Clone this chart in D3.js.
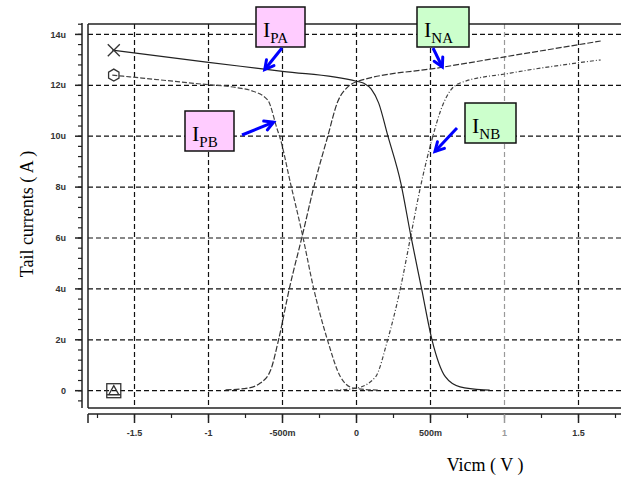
<!DOCTYPE html>
<html><head><meta charset="utf-8">
<script src="https://cdn.jsdelivr.net/npm/d3@7"></script>
<style>body{margin:0;background:#fff}svg{display:block}</style>
</head><body>
<svg id="c" width="621" height="477"></svg>
<script>
// ---- data ----
const xTickValues = [-1.5, -1, -0.5, 0, 0.5, 1, 1.5];
const xTickLabels = ["-1.5", "-1", "-500m", "0", "500m", "1", "1.5"];
const yTickValues = [0, 2, 4, 6, 8, 10, 12, 14];
const yTickLabels = ["0", "2u", "4u", "6u", "8u", "10u", "12u", "14u"];
// Vicm (V), current (uA)
const ipa = [[-1.65,13.38],[-1.0,12.9],[-0.5,12.55],[0,12.16],[0.05,12.08],[0.1,11.85],[0.15,11.3],[0.21,10.05],[0.3,8.15],[0.365,6.15],[0.44,4.0],[0.51,2.0],[0.6,0.55],[0.7,0.15],[0.86,0.03],[0.9,0.02]];
const ipb = [[-1.65,12.4],[-1.05,12.05],[-0.8,11.9],[-0.716,11.8],[-0.6,11.42],[-0.534,10.24],[-0.52,10.0],[-0.446,8.15],[-0.365,6.12],[-0.29,4.03],[-0.196,1.99],[-0.108,0.54],[-0.02,0.1],[0.15,0.02]];
const ina = [[-0.885,0.03],[-0.736,0.1],[-0.65,0.3],[-0.58,0.81],[-0.527,1.99],[-0.453,4.03],[-0.365,6.12],[-0.28,8.2],[-0.196,9.96],[-0.128,11.34],[-0.06,11.93],[0,12.14],[0.57,12.7],[1.65,13.74]];
const inb = [[-0.15,0.02],[0.0,0.1],[0.128,0.54],[0.21,1.99],[0.297,4.03],[0.365,6.03],[0.432,8.0],[0.514,9.96],[0.568,11.0],[0.635,11.8],[0.70,12.09],[1.04,12.48],[1.65,13.0]];
const markerX = -1.64;
const annotations = [
  {sub:"PA", fill:"#ffccff", box:[256,7], from:[282,48], to:[-0.62,12.62]},
  {sub:"PB", fill:"#ffccff", box:[185,111], from:[242,135], to:[-0.56,10.55]},
  {sub:"NA", fill:"#ccffcc", box:[417,7], from:[433,48], to:[0.58,12.72]},
  {sub:"NB", fill:"#ccffcc", box:[465,103], from:[457,128], to:[0.53,9.4]}
];

// ---- scales ----
const svg = d3.select("#c");
const x = d3.scaleLinear().domain([-1.5, 1.5]).range([134.5, 578.5]);
const y = d3.scaleLinear().domain([0, 14]).range([390.7, 34.4]);
const L = 88, R = 621, T = 24, B = 408;

svg.append("defs").append("clipPath").attr("id","clip")
  .append("rect").attr("x",L).attr("y",T).attr("width",R-L).attr("height",B-T);

// grid
const g = svg.append("g");
yTickValues.forEach(v => {
  g.append("line").attr("x1",L).attr("x2",R).attr("y1",y(v)).attr("y2",y(v))
   .attr("stroke","#111").attr("stroke-width",1.2).attr("stroke-dasharray","5,3");
});
xTickValues.forEach(v => {
  g.append("line").attr("x1",x(v)).attr("x2",x(v)).attr("y1",T).attr("y2",B)
   .attr("stroke", v===1 ? "#999" : "#111").attr("stroke-width",1.2).attr("stroke-dasharray","5,3");
});

// frame
svg.append("line").attr("x1",L).attr("x2",R).attr("y1",T).attr("y2",T).attr("stroke","#222").attr("stroke-width",1.5);
svg.append("line").attr("x1",L).attr("x2",L).attr("y1",T).attr("y2",B).attr("stroke","#222").attr("stroke-width",1.5);
svg.append("line").attr("x1",L).attr("x2",R).attr("y1",B).attr("y2",B).attr("stroke","#222").attr("stroke-width",1.5);

// y axis (left, offset)
const yAx = svg.append("g").attr("transform","translate(82,0)");
yAx.append("line").attr("x1",0).attr("x2",0).attr("y1",23).attr("y2",408).attr("stroke","#222").attr("stroke-width",1.5);
const yMinor = d3.range(-0.4, 14.5, 0.4);
yMinor.forEach(v => {
  const py = y(v);
  if (py < 23 || py > 408) return;
  yAx.append("line").attr("x1",-4).attr("x2",0).attr("y1",py).attr("y2",py).attr("stroke","#222").attr("stroke-width",1.2);
});
yTickValues.forEach((v,i) => {
  yAx.append("line").attr("x1",-7).attr("x2",0).attr("y1",y(v)).attr("y2",y(v)).attr("stroke","#222").attr("stroke-width",1.5);
  yAx.append("text").attr("x",-16).attr("y",y(v)).attr("dy","0.35em").attr("text-anchor","end")
    .attr("font-family","Liberation Sans, Arial").attr("font-weight","bold").attr("font-size",9).attr("fill","#333")
    .text(yTickLabels[i]);
});

// x axis (bottom, offset)
const xAx = svg.append("g").attr("transform","translate(0,414)");
xAx.append("line").attr("x1",L).attr("x2",R).attr("y1",0).attr("y2",0).attr("stroke","#222").attr("stroke-width",1.5);
xAx.append("line").attr("x1",L).attr("x2",L).attr("y1",0).attr("y2",9).attr("stroke","#222").attr("stroke-width",1.5);
d3.range(-1.75, 1.9, 0.25).forEach(v => {
  xAx.append("line").attr("x1",x(v)).attr("x2",x(v)).attr("y1",0).attr("y2",4).attr("stroke","#222").attr("stroke-width",1.2);
});
xTickValues.forEach((v,i) => {
  const c = v===1 ? "#999" : "#222";
  xAx.append("line").attr("x1",x(v)).attr("x2",x(v)).attr("y1",0).attr("y2",9).attr("stroke",c).attr("stroke-width",1.5);
  xAx.append("text").attr("x",x(v)).attr("y",22).attr("text-anchor","middle")
    .attr("font-family","Liberation Sans, Arial").attr("font-weight","bold").attr("font-size",9).attr("fill", v===1 ? "#999" : "#333")
    .text(xTickLabels[i]);
});

// curves
const line = d3.line().x(d=>x(d[0])).y(d=>y(d[1])).curve(d3.curveMonotoneX);
const cg = svg.append("g").attr("clip-path","url(#clip)");
const curves = [
  {d:ipb, stroke:"#444", dash:"5,2"},
  {d:inb, stroke:"#444", dash:"4,2,1,2"},
  {d:ina, stroke:"#333", dash:"6,2"},
  {d:ipa, stroke:"#222", dash:null}
];
curves.forEach(c => {
  cg.append("path").attr("d", line(c.d)).attr("fill","none").attr("stroke",c.stroke)
    .attr("stroke-width",1.2).attr("stroke-dasharray",c.dash);
});

// markers
const mx = x(markerX);
const mk = svg.append("g").attr("stroke","#333").attr("fill","none").attr("stroke-width",1.3);
const yc = y(ipa[0][1]);
mk.append("line").attr("x1",mx-6).attr("x2",mx+6).attr("y1",yc-6).attr("y2",yc+6);
mk.append("line").attr("x1",mx-6).attr("x2",mx+6).attr("y1",yc+6).attr("y2",yc-6);
const yo = y(ipb[0][1]);
mk.append("path").attr("d", d3.line()(d3.range(6).map(k=>{const a=Math.PI/3*k+Math.PI/6; return [mx+6*Math.cos(a), yo+6*Math.sin(a)];}))+"Z");
const yz = y(0);
mk.append("rect").attr("x",mx-7).attr("y",yz-7).attr("width",14).attr("height",14);
mk.append("path").attr("d",`M${mx-5},${yz+4}L${mx},${yz-5}L${mx+5},${yz+4}Z`);
mk.append("line").attr("x1",mx-7).attr("x2",mx+7).attr("y1",yz+4).attr("y2",yz+4);

// axis titles
svg.append("text").attr("transform","translate(33,214) rotate(-90)").attr("text-anchor","middle")
  .attr("font-family","Liberation Serif, Times New Roman").attr("font-size",18).attr("fill","#000")
  .text("Tail currents ( A )");
svg.append("text").attr("x",485).attr("y",471).attr("text-anchor","middle")
  .attr("font-family","Liberation Serif, Times New Roman").attr("font-size",18).attr("fill","#000")
  .text("Vicm ( V )");

// annotations
const an = svg.append("g");
annotations.forEach(a => {
  const w = a.sub==="NB" ? 51 : (a.sub==="NA" ? 52 : 49), h = 40;
  an.append("rect").attr("x",a.box[0]).attr("y",a.box[1]).attr("width",w).attr("height",h)
    .attr("fill",a.fill).attr("stroke","#111").attr("stroke-width",1.5);
  const t = an.append("text").attr("x",a.box[0]+7).attr("y",a.box[1]+30)
    .attr("font-family","Liberation Serif, Times New Roman").attr("fill","#000");
  t.append("tspan").attr("font-size",22).text("I");
  t.append("tspan").attr("font-size",15).attr("dy",6).text(a.sub);
  const x1=a.from[0], y1=a.from[1], x2=x(a.to[0]), y2=y(a.to[1]);
  an.append("line").attr("x1",x1).attr("y1",y1).attr("x2",x2).attr("y2",y2)
    .attr("stroke","#0000ff").attr("stroke-width",3);
  const ang = Math.atan2(y2-y1, x2-x1), hl = 10;
  const p1 = [x2 - hl*Math.cos(ang-0.5), y2 - hl*Math.sin(ang-0.5)];
  const p2 = [x2 - hl*Math.cos(ang+0.5), y2 - hl*Math.sin(ang+0.5)];
  an.append("path").attr("d",`M${p1[0]},${p1[1]}L${x2},${y2}L${p2[0]},${p2[1]}`)
    .attr("fill","none").attr("stroke","#0000ff").attr("stroke-width",3).attr("stroke-linecap","round");
});
</script>
</body></html>
